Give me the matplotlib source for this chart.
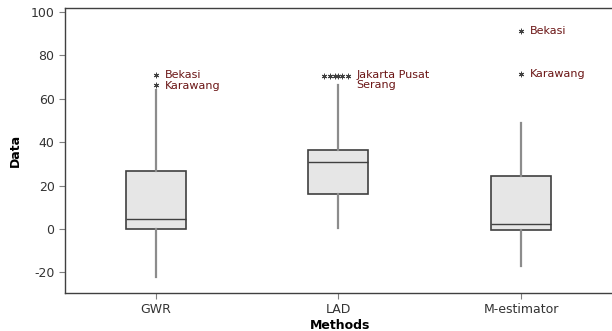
import matplotlib.pyplot as plt

plt.rcParams['axes.unicode_minus'] = False

methods = ['GWR', 'LAD', 'M-estimator']
q1 = [0, 16, -0.5]
med = [4.5, 31, 2.5]
q3 = [26.5, 36.5, 24.5]
whislo = [-22, 0.5, -17]
whishi = [64, 66.5, 49]

# outliers: (method index, value, small horizontal jitter)
out_idx = [0, 0, 1, 1, 1, 1, 1, 1, 2, 2]
out_val = [71, 66.5, 70.5, 70.5, 70.5, 70.5, 70.5, 70.5, 91, 71.5]
out_jit = [0, 0, -0.08, -0.045, -0.02, 0.0, 0.02, 0.055, 0, 0]

# labels next to outliers
lab_idx = [0, 0, 1, 1, 2, 2]
lab_val = [71, 66, 71, 66.5, 91, 71.5]
lab_txt = ['Bekasi', 'Karawang', 'Jakarta Pusat', 'Serang', 'Bekasi', 'Karawang']
lab_dx = [0.05, 0.05, 0.1, 0.1, 0.05, 0.05]

fig = plt.figure(figsize=(6.12, 3.31), dpi=100)
ax = fig.add_axes([65 / 612, 38 / 331, 550 / 612, 285 / 331])

pos = [1, 2, 3]
stats = []
for i in range(3):
    stats.append({'med': med[i], 'q1': q1[i], 'q3': q3[i],
                  'whislo': whislo[i], 'whishi': whishi[i], 'fliers': []})

ax.bxp(stats, positions=pos, widths=0.33, patch_artist=True, showcaps=False,
       boxprops=dict(facecolor='#e6e6e6', edgecolor='#404040', linewidth=1.2),
       medianprops=dict(color='#404040', linewidth=1.0),
       whiskerprops=dict(color='#8c8c8c', linewidth=1.6))

ox = [pos[i] + j for i, j in zip(out_idx, out_jit)]
ax.scatter(ox, out_val, marker=(6, 2, 0), s=12, color='#404040', linewidths=0.7, zorder=3)

for i, v, t, dx in zip(lab_idx, lab_val, lab_txt, lab_dx):
    ax.text(pos[i] + dx, v, t, fontsize=8, color='#6b1515', va='center', ha='left')

ax.set_xlim(0.503, 3.515)
ax.set_ylim(-29.5, 101.8)
ax.set_yticks([-20, 0, 20, 40, 60, 80, 100])
ax.set_xticks(pos)
ax.set_xticklabels(methods)
ax.tick_params(labelsize=9, colors='#333333', length=4, color='#808080')
ax.set_xlabel('Methods', fontsize=9, fontweight='bold', labelpad=2)
ax.set_ylabel('Data', fontsize=9, fontweight='bold', labelpad=6)
for s in ax.spines.values():
    s.set_color('#404040')
    s.set_linewidth(1.0)
ax.spines['right'].set_visible(False)

fig.savefig('out.png', dpi=100)
